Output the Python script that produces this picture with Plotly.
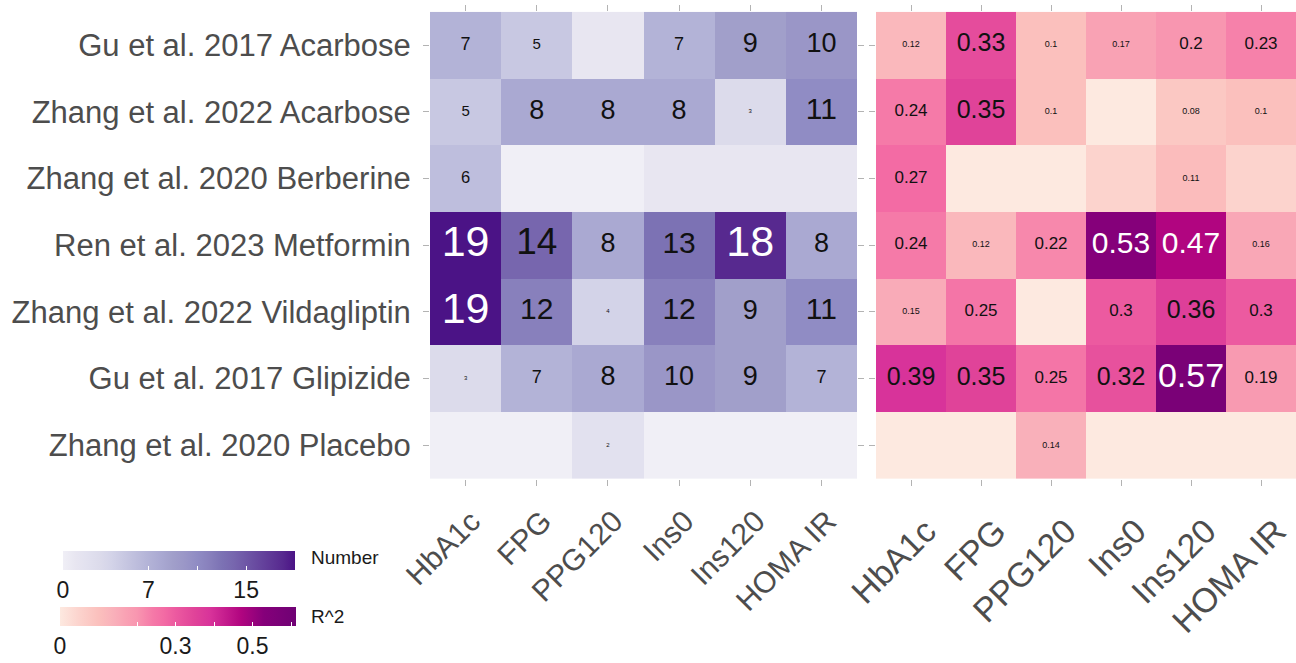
import numpy as np
import plotly.graph_objects as go

# Studies (rows, top to bottom) and outcome markers (columns)
studies = [
    "Gu et al. 2017 Acarbose",
    "Zhang et al. 2022 Acarbose",
    "Zhang et al. 2020 Berberine",
    "Ren et al. 2023 Metformin",
    "Zhang et al. 2022 Vildagliptin",
    "Gu et al. 2017 Glipizide",
    "Zhang et al. 2020 Placebo",
]
markers = ["HbA1c", "FPG", "PPG120", "Ins0", "Ins120", "HOMA IR"]

# Number of associated features per study / marker
number_counts = [
    [7, 5, 1, 7, 9, 10],
    [5, 8, 8, 8, 3, 11],
    [6, 0, 0, 1, 1, 1],
    [19, 14, 8, 13, 18, 8],
    [19, 12, 4, 12, 9, 11],
    [3, 7, 8, 10, 9, 7],
    [0, 0, 2, 0, 0, 0],
]

# Explained variance (R^2) per study / marker
r_squared = [
    [0.12, 0.33, 0.10, 0.17, 0.20, 0.23],
    [0.24, 0.35, 0.10, 0.00, 0.08, 0.10],
    [0.27, 0.00, 0.00, 0.05, 0.11, 0.05],
    [0.24, 0.12, 0.22, 0.53, 0.47, 0.16],
    [0.15, 0.25, 0.00, 0.30, 0.36, 0.30],
    [0.39, 0.35, 0.25, 0.32, 0.57, 0.19],
    [0.00, 0.00, 0.14, 0.00, 0.00, 0.00],
]

# Colour bar ticks (marks) and the subset of them that carry a label
number_ticks = [0, 7, 11, 15]
number_tick_labels = ["0", "7", "", "15"]
r2_ticks = [0, 0.2, 0.3, 0.4, 0.5, 0.6]
r2_tick_labels = ["0", "", "0.3", "", "0.5", ""]

W, H = 1296, 663
NUM_MAX = 19
R2_MAX = 0.613


def fx(p):
    return p / W


def fy(p):
    return 1 - p / H


def scale(stops, vmax):
    return [[min(v / vmax, 1.0), c] for v, c in stops]


purple_scale = scale([
    (0, "#f0eff6"), (1, "#e8e6f1"), (2, "#e2e1ef"), (3, "#dcdbeb"),
    (4, "#d3d3e8"), (5, "#c8c8e2"), (7, "#b3b3d7"), (8, "#aaa9d2"),
    (9, "#a19fca"), (10, "#9a96c7"), (11, "#908cc4"), (12, "#8880bc"),
    (13, "#7c72b4"), (14, "#7766ae"), (18, "#57298f"), (19, "#4b1386"),
], NUM_MAX)

pink_scale = scale([
    (0.0, "#fde9e0"), (0.05, "#fcd3cd"), (0.10, "#fbc0bd"), (0.14, "#f9b0ba"),
    (0.17, "#f9a2b4"), (0.20, "#f896b0"), (0.24, "#f57aa8"), (0.27, "#f36ba4"),
    (0.30, "#ec5aa0"), (0.35, "#e04399"), (0.39, "#d8339a"), (0.47, "#b10580"),
    (0.53, "#85007a"), (0.57, "#7a0177"), (R2_MAX, "#6f0174"),
], R2_MAX)

TICK_GREY = "#b3b3b3"
LABEL_GREY = "#4d4d4d"
FONT = "Liberation Sans, Arial, sans-serif"

fig = go.Figure()


def colorbar(vals, labels, top_px, left_px, length_px):
    return dict(
        orientation="h",
        x=fx(left_px), xanchor="left",
        y=fy(top_px), yanchor="top",
        len=length_px, lenmode="pixels",
        thickness=19, thicknessmode="pixels",
        xpad=0, ypad=0,
        outlinewidth=0,
        tickvals=vals,
        ticktext=labels,
        ticks="inside", ticklen=4, tickcolor="white", tickwidth=1,
        tickfont=dict(size=23, color="#1a1a1a", family=FONT),
    )


fig.add_trace(go.Heatmap(
    z=number_counts, x=markers, y=studies,
    colorscale=purple_scale, zmin=0, zmax=NUM_MAX,
    xaxis="x", yaxis="y", hoverinfo="skip",
    colorbar=colorbar(number_ticks, number_tick_labels, 559, 63, 232),
))

fig.add_trace(go.Heatmap(
    z=r_squared, x=markers, y=studies,
    colorscale=pink_scale, zmin=0, zmax=R2_MAX,
    xaxis="x2", yaxis="y2", hoverinfo="skip",
    colorbar=colorbar(r2_ticks, r2_tick_labels, 616, 60, 236),
))

# Colour bar titles sit to the right of each bar
for title, ypx in [("Number", 566), ("R^2", 626)]:
    fig.add_annotation(
        text=title, x=fx(309), y=fy(ypx), xref="paper", yref="paper",
        xanchor="left", yanchor="middle", showarrow=False,
        font=dict(size=19, color="#1a1a1a", family=FONT),
    )

# Cell labels: text size grows with the value shown
num_x, num_y, num_txt, num_size, num_col = [], [], [], [], []
for i, row in enumerate(number_counts):
    for j, v in enumerate(row):
        if v < 2:
            continue
        num_x.append(markers[j])
        num_y.append(studies[i])
        num_txt.append(str(v))
        num_size.append(float(np.interp(v, [2, 4, 5, 7, 8, 10, 11, 13, 14, 18, 19],
                                        [6, 6, 15, 18, 27, 27, 30, 30, 37, 43, 43])))
        num_col.append("white" if v >= 16 else "#111111")

r2_x, r2_y, r2_txt, r2_size, r2_col = [], [], [], [], []
for i, row in enumerate(r_squared):
    for j, v in enumerate(row):
        if v < 0.07:
            continue
        r2_x.append(markers[j])
        r2_y.append(studies[i])
        r2_txt.append(f"{v:g}")
        r2_size.append(float(np.interp(v, [0.08, 0.17, 0.19, 0.30, 0.32, 0.39, 0.47, 0.53, 0.57],
                                       [9, 9, 17, 17, 25, 25, 30, 30, 34])))
        r2_col.append("white" if v >= 0.45 else "#111111")

fig.add_trace(go.Scatter(
    x=num_x, y=num_y, text=num_txt, mode="text", xaxis="x", yaxis="y",
    textfont=dict(size=num_size, color=num_col, family=FONT),
    hoverinfo="skip", showlegend=False,
))
fig.add_trace(go.Scatter(
    x=r2_x, y=r2_y, text=r2_txt, mode="text", xaxis="x2", yaxis="y2",
    textfont=dict(size=r2_size, color=r2_col, family=FONT),
    hoverinfo="skip", showlegend=False,
))

y_domain = [fy(486), fy(12)]
common_axis = dict(
    type="category", showgrid=False, zeroline=False, showline=False,
    ticks="outside", ticklen=6, tickcolor=TICK_GREY, tickwidth=1,
    mirror="ticks", automargin=False, fixedrange=True,
)

fig.update_layout(
    width=W, height=H,
    margin=dict(l=0, r=0, t=0, b=0),
    paper_bgcolor="white", plot_bgcolor="white",
    showlegend=False,
    font=dict(family=FONT),
    xaxis=dict(common_axis, domain=[fx(430), fx(857)], range=[-0.5, 5.5],
               anchor="y", tickangle=-45, ticklabelshift=6, ticklabelstandoff=6,
               tickfont=dict(size=30, color=LABEL_GREY),
               categoryorder="array", categoryarray=markers),
    xaxis2=dict(common_axis, domain=[fx(876), 1.0], range=[-0.5, 5.5],
                anchor="y2", tickangle=-45, ticklabelshift=15, ticklabelstandoff=12,
                tickfont=dict(size=34, color=LABEL_GREY),
                categoryorder="array", categoryarray=markers),
    yaxis=dict(common_axis, domain=y_domain, range=[6.5, -0.5], anchor="x",
               categoryorder="array", categoryarray=studies,
               tickfont=dict(size=31, color=LABEL_GREY), ticklabelstandoff=6),
    yaxis2=dict(common_axis, domain=y_domain, range=[6.5, -0.5], anchor="x2",
                categoryorder="array", categoryarray=studies,
                showticklabels=False),
)

fig.write_html("out.html")
